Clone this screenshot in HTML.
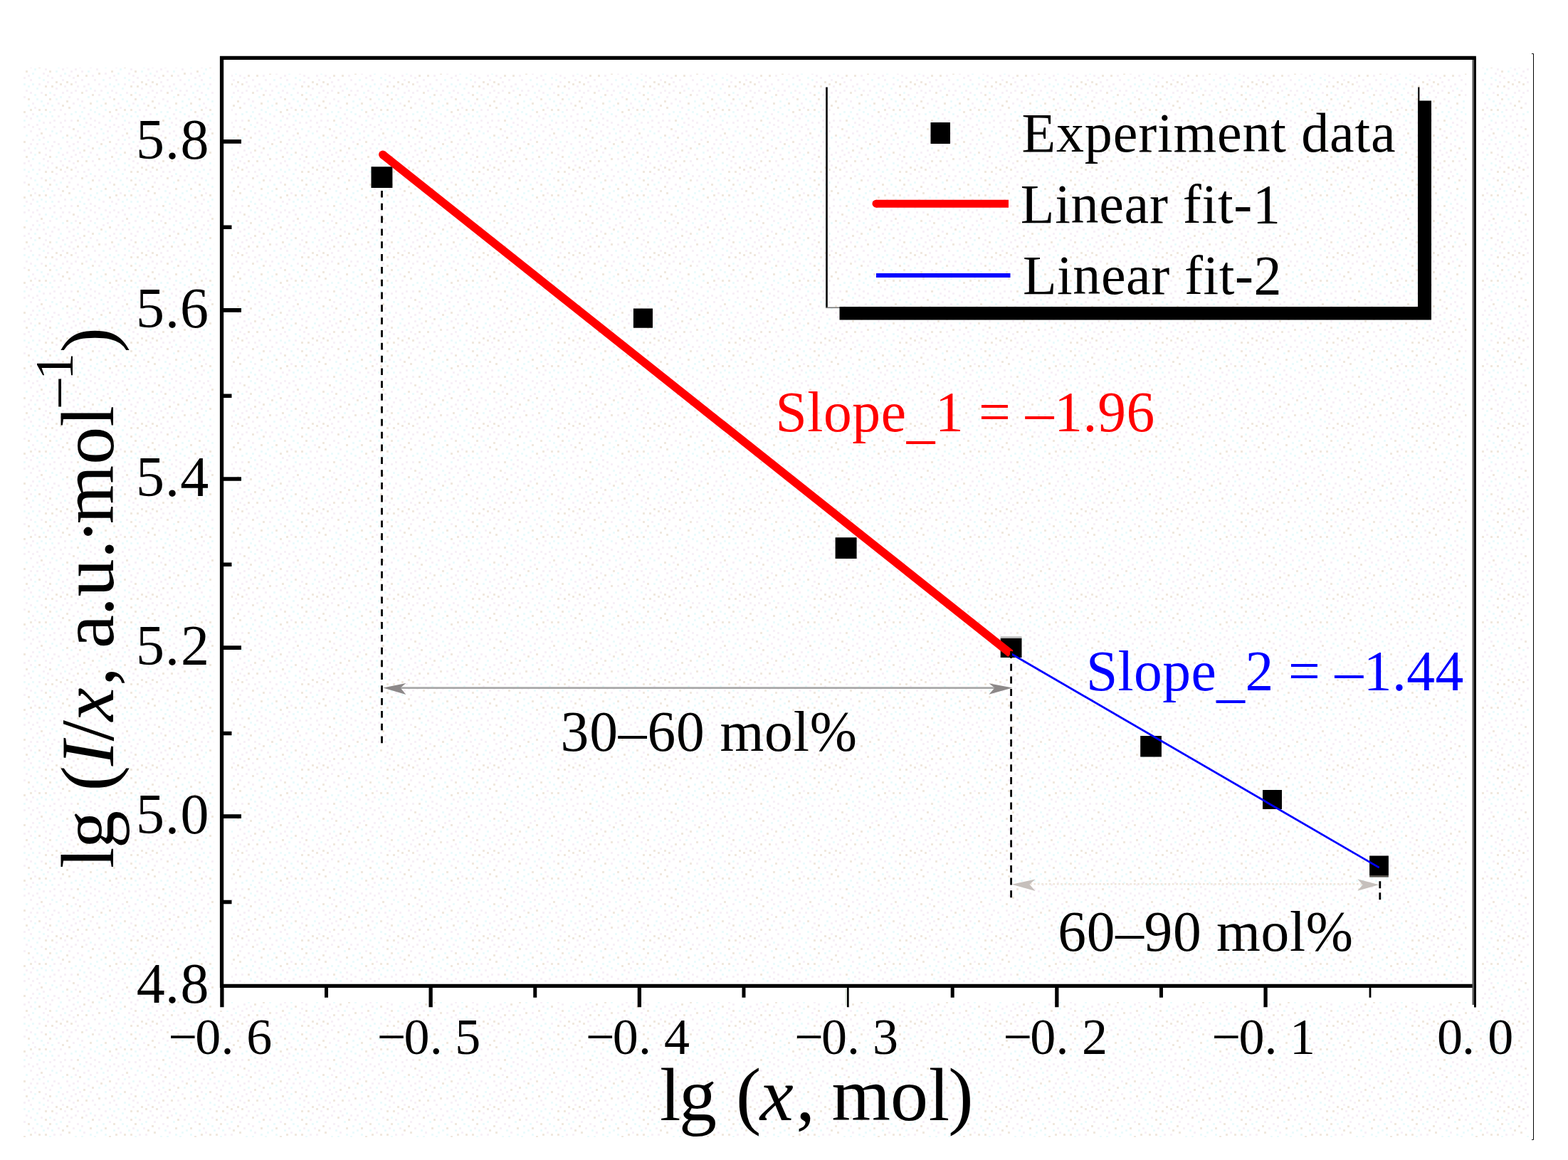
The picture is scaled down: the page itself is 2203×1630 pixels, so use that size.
<!DOCTYPE html>
<html lang="en"><head><meta charset="utf-8"><title>lg (I/x) versus lg (x) linear fits</title>
<style>
html,body{margin:0;padding:0;background:#fff;}
body{width:2203px;height:1630px;}
svg{display:block;}
text{font-family:"Liberation Serif","DejaVu Serif",serif;fill:#000;font-kerning:none;white-space:pre;}
.tick{font-size:80px;}
.xt{font-size:72px;}
.leg{font-size:78px;}
.lab{font-size:79.5px;}
.ttl{font-size:106px;}
.it{font-style:italic;}
</style></head><body>
<svg width="2203" height="1630" viewBox="0 0 2203 1630" role="img" aria-label="lg (I/x) versus lg (x) with two linear fits">
<defs>
<pattern id="dz" width="120" height="120" patternUnits="userSpaceOnUse">
<path fill="#ebfbfc" d="M3 15h3v3h-3zM3 75h3v3h-3zM3 99h3v3h-3zM6 3h3v3h-3zM6 33h3v3h-3zM12 36h3v3h-3zM12 72h3v3h-3zM15 21h3v3h-3zM15 30h3v3h-3zM18 39h3v3h-3zM18 87h3v3h-3zM21 27h3v3h-3zM21 60h3v3h-3zM24 18h3v3h-3zM24 66h3v3h-3zM24 111h3v3h-3zM27 33h3v3h-3zM27 84h3v3h-3zM27 93h3v3h-3zM30 9h3v3h-3zM33 48h3v3h-3zM33 117h3v3h-3zM36 69h3v3h-3zM39 0h3v3h-3zM39 27h3v3h-3zM45 102h3v3h-3zM45 117h3v3h-3zM48 12h3v3h-3zM48 87h3v3h-3zM48 96h3v3h-3zM51 3h3v3h-3zM51 18h3v3h-3zM51 42h3v3h-3zM54 48h3v3h-3zM54 75h3v3h-3zM54 108h3v3h-3zM57 21h3v3h-3zM57 39h3v3h-3zM60 27h3v3h-3zM60 111h3v3h-3zM63 42h3v3h-3zM63 60h3v3h-3zM66 78h3v3h-3zM69 9h3v3h-3zM69 36h3v3h-3zM72 27h3v3h-3zM72 42h3v3h-3zM72 63h3v3h-3zM78 18h3v3h-3zM78 66h3v3h-3zM78 99h3v3h-3zM81 93h3v3h-3zM84 15h3v3h-3zM84 87h3v3h-3zM87 72h3v3h-3zM90 102h3v3h-3zM99 39h3v3h-3zM99 72h3v3h-3zM105 36h3v3h-3zM108 87h3v3h-3zM111 27h3v3h-3zM111 42h3v3h-3zM111 54h3v3h-3zM114 36h3v3h-3zM117 45h3v3h-3zM117 57h3v3h-3z"/>
<path fill="#f0e8de" d="M0 105h3v3h-3zM6 24h3v3h-3zM9 12h3v3h-3zM9 87h3v3h-3zM18 102h3v3h-3zM21 81h3v3h-3zM27 24h3v3h-3zM33 36h3v3h-3zM33 78h3v3h-3zM36 99h3v3h-3zM39 18h3v3h-3zM42 33h3v3h-3zM54 33h3v3h-3zM54 93h3v3h-3zM57 66h3v3h-3zM63 0h3v3h-3zM63 12h3v3h-3zM63 33h3v3h-3zM69 18h3v3h-3zM69 99h3v3h-3zM72 0h3v3h-3zM78 114h3v3h-3zM84 117h3v3h-3zM87 27h3v3h-3zM93 21h3v3h-3zM93 69h3v3h-3zM93 114h3v3h-3zM96 30h3v3h-3zM99 117h3v3h-3zM102 60h3v3h-3zM108 48h3v3h-3zM108 105h3v3h-3zM111 72h3v3h-3zM114 9h3v3h-3zM117 90h3v3h-3z"/>
<path fill="#f7f0f7" d="M0 6h3v3h-3zM0 51h3v3h-3zM3 39h3v3h-3zM3 63h3v3h-3zM3 84h3v3h-3zM3 117h3v3h-3zM6 45h3v3h-3zM6 54h3v3h-3zM6 69h3v3h-3zM6 93h3v3h-3zM9 105h3v3h-3zM12 6h3v3h-3zM12 48h3v3h-3zM12 57h3v3h-3zM12 111h3v3h-3zM15 66h3v3h-3zM15 78h3v3h-3zM15 96h3v3h-3zM18 12h3v3h-3zM18 51h3v3h-3zM18 117h3v3h-3zM21 6h3v3h-3zM24 42h3v3h-3zM24 75h3v3h-3zM27 0h3v3h-3zM27 54h3v3h-3zM27 102h3v3h-3zM30 63h3v3h-3zM30 72h3v3h-3zM33 15h3v3h-3zM33 57h3v3h-3zM33 90h3v3h-3zM33 108h3v3h-3zM36 6h3v3h-3zM36 42h3v3h-3zM39 54h3v3h-3zM39 87h3v3h-3zM39 105h3v3h-3zM42 9h3v3h-3zM42 45h3v3h-3zM42 63h3v3h-3zM42 81h3v3h-3zM42 93h3v3h-3zM42 111h3v3h-3zM45 24h3v3h-3zM45 39h3v3h-3zM45 57h3v3h-3zM45 75h3v3h-3zM48 30h3v3h-3zM51 54h3v3h-3zM51 69h3v3h-3zM51 81h3v3h-3zM54 60h3v3h-3zM54 117h3v3h-3zM57 9h3v3h-3zM60 51h3v3h-3zM60 72h3v3h-3zM60 81h3v3h-3zM60 102h3v3h-3zM63 87h3v3h-3zM63 96h3v3h-3zM66 24h3v3h-3zM66 105h3v3h-3zM66 114h3v3h-3zM69 51h3v3h-3zM69 69h3v3h-3zM69 90h3v3h-3zM72 84h3v3h-3zM72 108h3v3h-3zM75 12h3v3h-3zM75 33h3v3h-3zM75 48h3v3h-3zM75 57h3v3h-3zM75 78h3v3h-3zM78 3h3v3h-3zM81 24h3v3h-3zM81 42h3v3h-3zM81 81h3v3h-3zM84 33h3v3h-3zM84 51h3v3h-3zM84 63h3v3h-3zM84 105h3v3h-3zM87 9h3v3h-3zM87 57h3v3h-3zM87 96h3v3h-3zM87 111h3v3h-3zM90 0h3v3h-3zM90 39h3v3h-3zM90 48h3v3h-3zM93 6h3v3h-3zM93 78h3v3h-3zM93 93h3v3h-3zM96 15h3v3h-3zM96 57h3v3h-3zM96 84h3v3h-3zM96 105h3v3h-3zM99 9h3v3h-3zM99 48h3v3h-3zM99 99h3v3h-3zM102 24h3v3h-3zM102 81h3v3h-3zM102 90h3v3h-3zM102 108h3v3h-3zM105 6h3v3h-3zM105 69h3v3h-3zM105 96h3v3h-3zM105 114h3v3h-3zM108 0h3v3h-3zM108 18h3v3h-3zM108 63h3v3h-3zM108 78h3v3h-3zM111 93h3v3h-3zM114 21h3v3h-3zM114 99h3v3h-3zM114 111h3v3h-3zM117 0h3v3h-3zM117 30h3v3h-3zM117 66h3v3h-3zM117 81h3v3h-3z"/>
</pattern>
</defs>
<rect x="0" y="0" width="2203" height="1630" fill="#fff"/>
<rect x="33" y="95" width="2115" height="1503" fill="url(#dz)"/>
<path d="M300.5 70H325V1420H300.5Z M2060.5 70H2082V1420H2060.5Z M309 70H2074V103.4H309Z M300.5 1380.5H2082V1408H300.5Z" fill="#fff"/>
<path d="M2152 75.5 H2154.5 V1601.5 H2152" fill="none" stroke="#000" stroke-width="1"/>
<g id="chart">
<path d="M2073.85 81.45 H311.55 V1385.40 H2073.85" fill="none" stroke="#000" stroke-width="5.3" stroke-linejoin="miter"/>
<path d="M2072.45 81.45 V1415.40" fill="none" stroke="#000" stroke-width="2.9"/>
<path d="M2069.75 84.05 V1412.00" fill="none" stroke="#5a5a5a" stroke-width="2.6"/>
<path d="M313 198.90 H339 M313 435.95 H339 M313 673.00 H339 M313 910.05 H339 M313 1147.10 H339" stroke="#000" stroke-width="5.7" fill="none"/>
<path d="M313 319.23 H325.5 M313 556.27 H325.5 M313 793.32 H325.5 M313 1030.38 H325.5 M313 1267.43 H325.5" stroke="#000" stroke-width="5.5" fill="none"/>
<path d="M311.90 1385 V1415.2 M605.13 1385 V1415.2 M898.37 1385 V1415.2 M1484.83 1385 V1415.2 M1778.07 1385 V1415.2" stroke="#000" stroke-width="5.3" fill="none"/>
<path d="M458.52 1385 V1401.8 M751.75 1385 V1401.8 M1044.98 1385 V1401.8 M1338.22 1385 V1401.8 M1631.45 1385 V1401.8" stroke="#000" stroke-width="5" fill="none"/>
<path d="M1191.30 1385 V1415.2 M1924.98 1385 V1401.8" stroke="#000" stroke-width="2.8" fill="none"/>
<path d="M1188.70 1388 V1413" stroke="#dfe6dc" stroke-width="2.4" fill="none"/>
<text class="tick" y="223.2" x="191.1 231.9 253.5">5.8</text>
<text class="tick" y="460.3" x="191.1 231.9 253.0">5.6</text>
<text class="tick" y="697.3" x="191.1 231.9 253.3">5.4</text>
<text class="tick" y="934.4" x="191.1 231.9 253.9">5.2</text>
<text class="tick" y="1171.4" x="191.1 231.9 253.5">5.0</text>
<text class="tick" y="1408.5" x="191.7 231.9 253.5">4.8</text>
<text class="xt" y="1481.2" x="236.5 274.3 310.4 346.3">−0.6</text>
<text class="xt" y="1481.2" x="529.7 567.5 603.7 639.3">−0.5</text>
<text class="xt" y="1481.2" x="822.9 860.8 896.9 933.1">−0.4</text>
<text class="xt" y="1481.2" x="1116.2 1154.0 1190.1 1226.1">−0.3</text>
<text class="xt" y="1481.2" x="1409.4 1447.2 1483.4 1520.1">−0.2</text>
<text class="xt" y="1481.2" x="1702.6 1740.5 1776.6 1811.9">−0.1</text>
<text class="xt" y="1481.2" x="2018.9 2054.0 2090.2">0.0</text>
<text class="ttl" y="1573.5" x="927.0 953.9 1006.9 1034.0 1067.8 1118.4 1144.9 1168.6 1251.0 1304.7 1332.3">lg (<tspan class="it">x</tspan>, mol)</text>
<text class="ttl" transform="translate(158.7 1218.0) rotate(-90)" x="-2.1 26.1 79.1 106.4 141.8 176.4 204.5 254.2 280.7 306.9 352.6 379.4 433.0 453.5 481.8 565.3 618.4 647.0 684.0 722.5">lg (<tspan class="it">I</tspan>/<tspan class="it">x</tspan>, a.u.·mol<tspan font-size="76" dy="-57">–1</tspan><tspan dy="57">)</tspan></text>
<path d="M562 966.6 H1398" stroke="#a8a8a8" stroke-width="2.8" fill="none"/>
<path d="M538.2 966.6 L570.4 960 L562.6 966.6 L570.4 976 Z" fill="#8c8888"/>
<path d="M1422.5 966.6 L1389.4 960.3 L1397.6 966.6 L1389.4 975.8 Z" fill="#8c8888"/>
<path d="M1447 1242.3 H1914" stroke="#efe6dc" stroke-width="2.6" stroke-dasharray="2.7 2.7" fill="none"/>
<path d="M1421.5 1242.8 L1454.6 1235.5 L1446.5 1242.8 L1454.6 1251.9 Z" fill="#c6c0bc"/>
<path d="M1937.4 1243.2 L1907.3 1235.3 L1914.5 1243.2 L1907.3 1251.7 Z" fill="#c6c0bc"/>
<path d="M521.5 234.3H551.4V263.9H521.5ZM889.9 433.4H917.0V460.7H889.9ZM1173.6 755.2H1203.6V785.0H1173.6ZM1405.7 896.8H1435.5V924.1H1405.7ZM1602.2 1034.0H1631.9V1063.4H1602.2ZM1774.0 1110.0H1801.0V1137.0H1774.0ZM1924.1 1202.6H1950.9V1229.9H1924.1Z" fill="#000"/>
<rect x="1405.7" y="894.4" width="29.8" height="2.4" fill="#b4b4b4"/>
<rect x="1924.1" y="1229.9" width="26.8" height="2.7" fill="#54504a"/>
<path d="M537.4 217 L1420 918.6" stroke="#ff0000" stroke-width="11.5" fill="none"/>
<circle cx="537.8" cy="217.3" r="5.75" fill="#ff0000"/>
<path d="M1420 918.2 L1937.7 1219.1" stroke="#0000ff" stroke-width="2.8" fill="none"/>
<path d="M536.5 267.9 V1044.2" stroke="#000" stroke-width="2.8" stroke-dasharray="9.6 8.23" fill="none"/>
<path d="M1420.6 915 V1262.8" stroke="#000" stroke-width="2.8" stroke-dasharray="10 7.7" stroke-dashoffset="0" fill="none"/>
<path d="M1938.8 1238.2 V1265.2" stroke="#000" stroke-width="2.8" stroke-dasharray="10 6" fill="none"/>
<path d="M1161.5 122.5 V432.5" stroke="#000" stroke-width="2.6" fill="none"/>
<path d="M1993.3 122.5 V432" stroke="#000" stroke-width="2.2" fill="none"/>
<path d="M1160 432.3 H1181" stroke="#777" stroke-width="1.6" fill="none"/>
<path d="M1179.5 431 H1992.2 V141.6 H2011 V449.6 H1179.5 Z" fill="#000"/>
<rect x="1307.5" y="172" width="27.5" height="30" fill="#000"/>
<path d="M1231 286.2 H1417 V291.7 H1231 Z M1231 286.2 V280.7 H1417 V286.2 Z" fill="#ff0000"/>
<circle cx="1231" cy="286.2" r="5.5" fill="#ff0000"/>
<path d="M1231 387 H1419.5" stroke="#0000ff" stroke-width="6" fill="none"/>
<text class="leg" x="1435.5" y="212.5" style="letter-spacing:0.849px;">Experiment data</text>
<text class="leg" x="1433.8" y="313.0" style="letter-spacing:0.718px;">Linear fit-1</text>
<text class="leg" x="1436.9" y="412.5" style="letter-spacing:0.570px;">Linear fit-2</text>
<text class="lab" x="1089.4" y="606.2" style="letter-spacing:0.629px;fill:#ff0000;">Slope<tspan dy="7.5">_</tspan><tspan dy="-7.5">1 = –1.96</tspan></text>
<text class="lab" x="1525.9" y="970.3" style="letter-spacing:0.452px;fill:#0000ff;">Slope<tspan dy="7.5">_</tspan><tspan dy="-7.5">2 = –1.44</tspan></text>
<text class="lab" x="787.6" y="1055.2" style="letter-spacing:0.862px;">30–60 mol%</text>
<text class="lab" x="1486.3" y="1335.9" style="letter-spacing:0.676px;">60–90 mol%</text>
</g>
</svg>
</body></html>
